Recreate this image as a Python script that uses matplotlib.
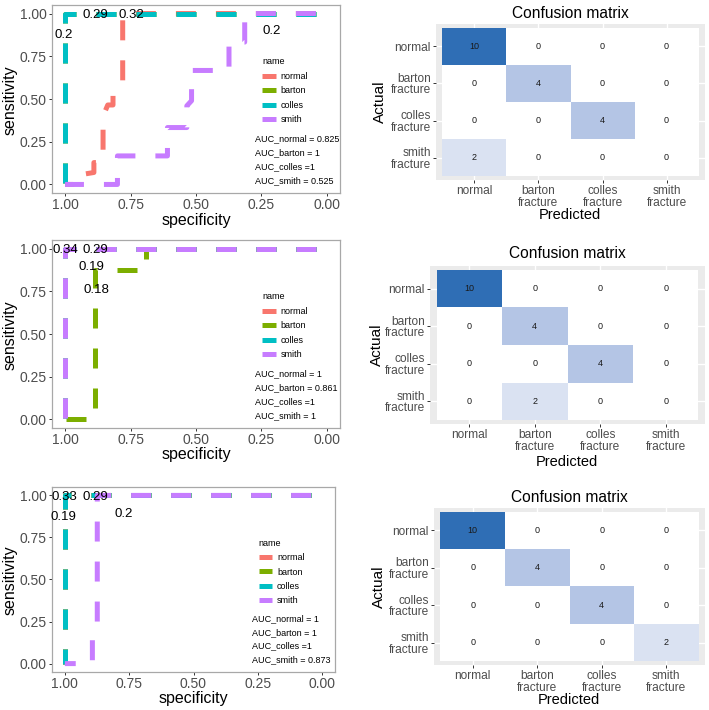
import numpy as np
import matplotlib
matplotlib.use("Agg")
import matplotlib.pyplot as plt
from matplotlib.colors import LinearSegmentedColormap
from matplotlib.lines import Line2D

plt.rcParams["font.family"] = ["Liberation Sans", "DejaVu Sans"]

W, H = 709, 710

CLASS_NAMES = ["normal", "barton", "colles", "smith"]
CLASS_COLORS = ["#F8766D", "#7CAE00", "#00BFC4", "#C77CFF"]
CM_LABELS = ["normal", "barton\nfracture", "colles\nfracture", "smith\nfracture"]

# a perfect classifier: straight up the left edge, then across the top
PERFECT_SPEC = [1.0, 1.0, 0.0]
PERFECT_SENS = [0.0, 1.0, 1.0]

# ---- model 1 ----
m1_normal_spec = [1.0, 0.97, 0.97, 0.89, 0.89, 0.855, 0.855, 0.837, 0.817, 0.817, 0.785, 0.78, 0.78, 0.0]
m1_normal_sens = [0.0, 0.0, 0.05, 0.07, 0.128, 0.128, 0.40, 0.465, 0.465, 0.55, 0.59, 0.60, 1.0, 1.0]
m1_smith_spec = [1.0, 0.80, 0.80, 0.609, 0.609, 0.535, 0.535, 0.517, 0.517, 0.374, 0.374, 0.314, 0.314, 0.0]
m1_smith_sens = [0.0, 0.0, 0.167, 0.167, 0.333, 0.333, 0.46, 0.49, 0.667, 0.667, 0.833, 0.833, 1.0, 1.0]
m1_thres_text = ["0.2", "0.29", "0.32", "0.2"]
m1_thres_spec = [1.006, 0.885, 0.745, 0.212]
m1_thres_sens = [0.876, 0.994, 0.994, 0.896]
m1_auc = ["AUC_normal = 0.825", "AUC_barton = 1", "AUC_colles =1", "AUC_smith = 0.525"]
cm1 = [[10, 0, 0, 0], [0, 4, 0, 0], [0, 0, 4, 0], [2, 0, 0, 0]]

# ---- model 2 ----
m2_barton_spec = [1.0, 0.885, 0.885, 0.69, 0.69, 0.0]
m2_barton_sens = [0.0, 0.0, 0.875, 0.875, 1.0, 1.0]
m2_thres_text = ["0.34", "0.29", "0.19", "0.18"]
m2_thres_spec = [1.0, 0.885, 0.898, 0.88]
m2_thres_sens = [0.99, 0.99, 0.892, 0.757]
m2_auc = ["AUC_normal = 1", "AUC_barton = 0.861", "AUC_colles =1", "AUC_smith = 1"]
cm2 = [[10, 0, 0, 0], [0, 4, 0, 0], [0, 0, 4, 0], [0, 2, 0, 0]]

# ---- model 3 ----
m3_smith_spec = [1.0, 0.893, 0.893, 0.874, 0.874, 0.0]
m3_smith_sens = [0.0, 0.0, 0.19, 0.24, 1.0, 1.0]
m3_thres_text = ["0.33", "0.29", "0.19", "0.2"]
m3_thres_spec = [1.0, 0.883, 1.007, 0.773]
m3_thres_sens = [0.99, 0.99, 0.872, 0.89]
m3_auc = ["AUC_normal = 1", "AUC_barton = 1", "AUC_colles =1", "AUC_smith = 0.873"]
cm3 = [[10, 0, 0, 0], [0, 4, 0, 0], [0, 0, 4, 0], [0, 0, 0, 2]]

CM_CMAP = LinearSegmentedColormap.from_list(
    "cm_blues", [(0.0, "#FFFFFF"), (0.2, "#DAE2F2"), (0.4, "#B4C5E5"), (1.0, "#2F6EB5")]
)
TEXT_GRAY = "#4D4D4D"
# every curve is drawn from the (0, 1) end, so the dashes line up along the top
ROC_DASH = (5.8, (4, 4))


def px_axes(fig, left, top, right, bottom):
    return fig.add_axes([left / W, 1 - bottom / H, (right - left) / W, (bottom - top) / H])


def px_text(fig, x, y, s, **kw):
    fig.text(x / W, 1 - y / H, s, ha="center", va="center", **kw)


def draw_roc(ax, curves, thres, aucs):
    for color, (spec, sens) in zip(CLASS_COLORS, curves):
        ax.plot(spec[::-1], sens[::-1], color=color, lw=3.6, linestyle=ROC_DASH)
    for t, x, y in zip(*thres):
        ax.text(x, y, t, ha="center", va="center", fontsize=9.5, color="black")

    ax.set_xlim(1.05, -0.05)
    ax.set_ylim(-0.05, 1.05)
    ticks = [1.0, 0.75, 0.5, 0.25, 0.0]
    ax.set_xticks(ticks, [f"{t:.2f}" for t in ticks])
    ax.set_yticks(ticks, [f"{t:.2f}" for t in ticks])
    ax.tick_params(labelsize=10, labelcolor=TEXT_GRAY, color="#333333", length=2.2, width=0.7, pad=1.5)
    for sp in ax.spines.values():
        sp.set_color("#A8A8A8")
        sp.set_linewidth(0.9)

    handles = [Line2D([0], [0], color=c, lw=3.6, solid_capstyle="butt") for c in CLASS_COLORS]
    ax.legend(handles, CLASS_NAMES, title="name", loc="upper left", bbox_to_anchor=(0.715, 0.745),
              frameon=False, fontsize=6.5, title_fontsize=6.5, borderpad=0, handlelength=1.5,
              handletextpad=0.5, labelspacing=0.6, alignment="left")
    for i, s in enumerate(aucs):
        ax.text(0.705, 0.287 - i * 0.073, s, transform=ax.transAxes, ha="left", va="center",
                fontsize=6.5, color="black")


def draw_cm(ax, cm):
    cm = np.array(cm)
    ax.set_facecolor("#EBEBEB")
    edges = np.arange(cm.shape[0] + 1) - 0.5
    ax.pcolormesh(edges, edges, cm, cmap=CM_CMAP, vmin=0, vmax=cm.max(), zorder=1)
    for i in range(cm.shape[0]):
        for j in range(cm.shape[1]):
            ax.text(j, i, str(cm[i, j]), ha="center", va="center", fontsize=6.5, color="#1A1A1A", zorder=2)
    ax.set_xlim(-0.6, 3.6)
    ax.set_ylim(3.6, -0.6)
    ax.set_xticks(range(4), CM_LABELS, linespacing=0.95)
    ax.set_yticks(range(4), CM_LABELS, linespacing=0.95)
    ax.tick_params(labelsize=8.6, labelcolor=TEXT_GRAY, color="#333333", length=2.2, width=0.7, pad=1.5)
    ax.set_axisbelow(True)
    ax.grid(color="white", lw=1.0)
    for sp in ax.spines.values():
        sp.set_visible(False)


fig = plt.figure(figsize=(W / 100, H / 100), dpi=100)

roc_boxes = [(52, 5, 340, 193), (52, 240, 340, 428), (52, 487, 335, 672)]
cm_boxes = [(436, 24, 705, 180), (430, 266, 705, 424), (434, 508, 705, 665)]

models = [
    ([(m1_normal_spec, m1_normal_sens), (PERFECT_SPEC, PERFECT_SENS), (PERFECT_SPEC, PERFECT_SENS),
      (m1_smith_spec, m1_smith_sens)],
     (m1_thres_text, m1_thres_spec, m1_thres_sens), m1_auc, cm1),
    ([(PERFECT_SPEC, PERFECT_SENS), (m2_barton_spec, m2_barton_sens), (PERFECT_SPEC, PERFECT_SENS),
      (PERFECT_SPEC, PERFECT_SENS)],
     (m2_thres_text, m2_thres_spec, m2_thres_sens), m2_auc, cm2),
    ([(PERFECT_SPEC, PERFECT_SENS), (PERFECT_SPEC, PERFECT_SENS), (PERFECT_SPEC, PERFECT_SENS),
      (m3_smith_spec, m3_smith_sens)],
     (m3_thres_text, m3_thres_spec, m3_thres_sens), m3_auc, cm3),
]

# label centres in pixels: (specificity, sensitivity, title, Actual, Predicted)
label_pos = [
    ((196, 220), (10, 100), (570, 13), (380, 102), (570, 215)),
    ((196, 455), (10, 335), (567, 253), (377, 345), (567, 462)),
    ((193, 698), (10, 580), (569, 497), (379, 587), (569, 700)),
]

for rbox, cbox, (curves, thres, aucs, cm), pos in zip(roc_boxes, cm_boxes, models, label_pos):
    ax = px_axes(fig, *rbox)
    draw_roc(ax, curves, thres, aucs)
    axc = px_axes(fig, *cbox)
    draw_cm(axc, cm)

    px_text(fig, *pos[0], "specificity", fontsize=11.5)
    px_text(fig, *pos[1], "sensitivity", fontsize=11.5, rotation=90)
    px_text(fig, *pos[2], "Confusion matrix", fontsize=11.2)
    px_text(fig, *pos[3], "Actual", fontsize=11, rotation=90)
    px_text(fig, *pos[4], "Predicted", fontsize=10.5)

fig.savefig("out.png", dpi=100)
